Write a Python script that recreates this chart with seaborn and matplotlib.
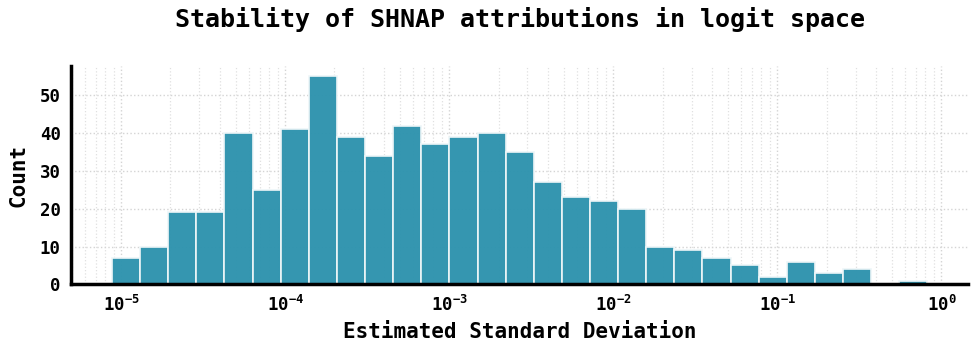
import numpy as np
import pandas as pd
import matplotlib
matplotlib.use("Agg")
import matplotlib.pyplot as plt
import seaborn as sns

# Histogram counts per log-spaced bin
counts = [7, 10, 19, 19, 40, 25, 41, 55, 39, 34, 42, 37, 39, 40, 35,
          27, 23, 22, 20, 10, 9, 7, 5, 2, 6, 3, 4, 0, 1]
log_min = -5.055   # log10 of smallest estimated std
log_max = -0.085   # log10 of largest estimated std

title = "Stability of SHNAP attributions in logit space"
xlabel = "Estimated Standard Deviation"
ylabel = "Count"

n_bins = len(counts)
log_edges = np.linspace(log_min, log_max, n_bins + 1)
centers = 10 ** ((log_edges[:-1] + log_edges[1:]) / 2)
df = pd.DataFrame({"std": centers, "count": np.array(counts, dtype=float)})

sns.set_style("white")
mono = "DejaVu Sans Mono"
plt.rcParams["font.family"] = [mono, "DejaVu Sans"]
plt.rcParams["font.weight"] = "bold"
for k in ["text.color", "axes.labelcolor", "xtick.color", "ytick.color"]:
    plt.rcParams[k] = "black"

fig, ax = plt.subplots(figsize=(9.76, 3.51), dpi=100)
fig.subplots_adjust(left=0.073, right=0.992, top=0.812, bottom=0.19)

sns.histplot(data=df, x="std", weights="count", bins=n_bins,
             binrange=(log_min, log_max), log_scale=True, ax=ax,
             color="#2E93AE", alpha=0.97, edgecolor="#eef6f8", linewidth=1.2,
             zorder=2)

ax.set_axisbelow(True)
ax.grid(True, which="major", axis="both", linestyle=":", color="#d4d4d4", linewidth=1.0)
ax.grid(True, which="minor", axis="x", linestyle=":", color="#e0e0e0", linewidth=0.9)

for s in ["top", "right"]:
    ax.spines[s].set_visible(False)
for s in ["left", "bottom"]:
    ax.spines[s].set_linewidth(2.5)
    ax.spines[s].set_color("black")

ax.set_yticks([0, 10, 20, 30, 40, 50])
ax.tick_params(axis="both", which="major", labelsize=12.5, length=4, width=1.2,
               direction="out", colors="black")
ax.tick_params(axis="x", which="minor", length=2, width=0.8)
for lab in ax.get_xticklabels() + ax.get_yticklabels():
    lab.set_fontweight("bold")

ax.set_xlabel(xlabel, fontsize=15, fontweight="bold", labelpad=5)
ax.set_ylabel(ylabel, fontsize=15, fontweight="bold", labelpad=8)
ax.set_title(title, fontsize=18, fontweight="bold", pad=28)

fig.savefig("out.png", dpi=100)
